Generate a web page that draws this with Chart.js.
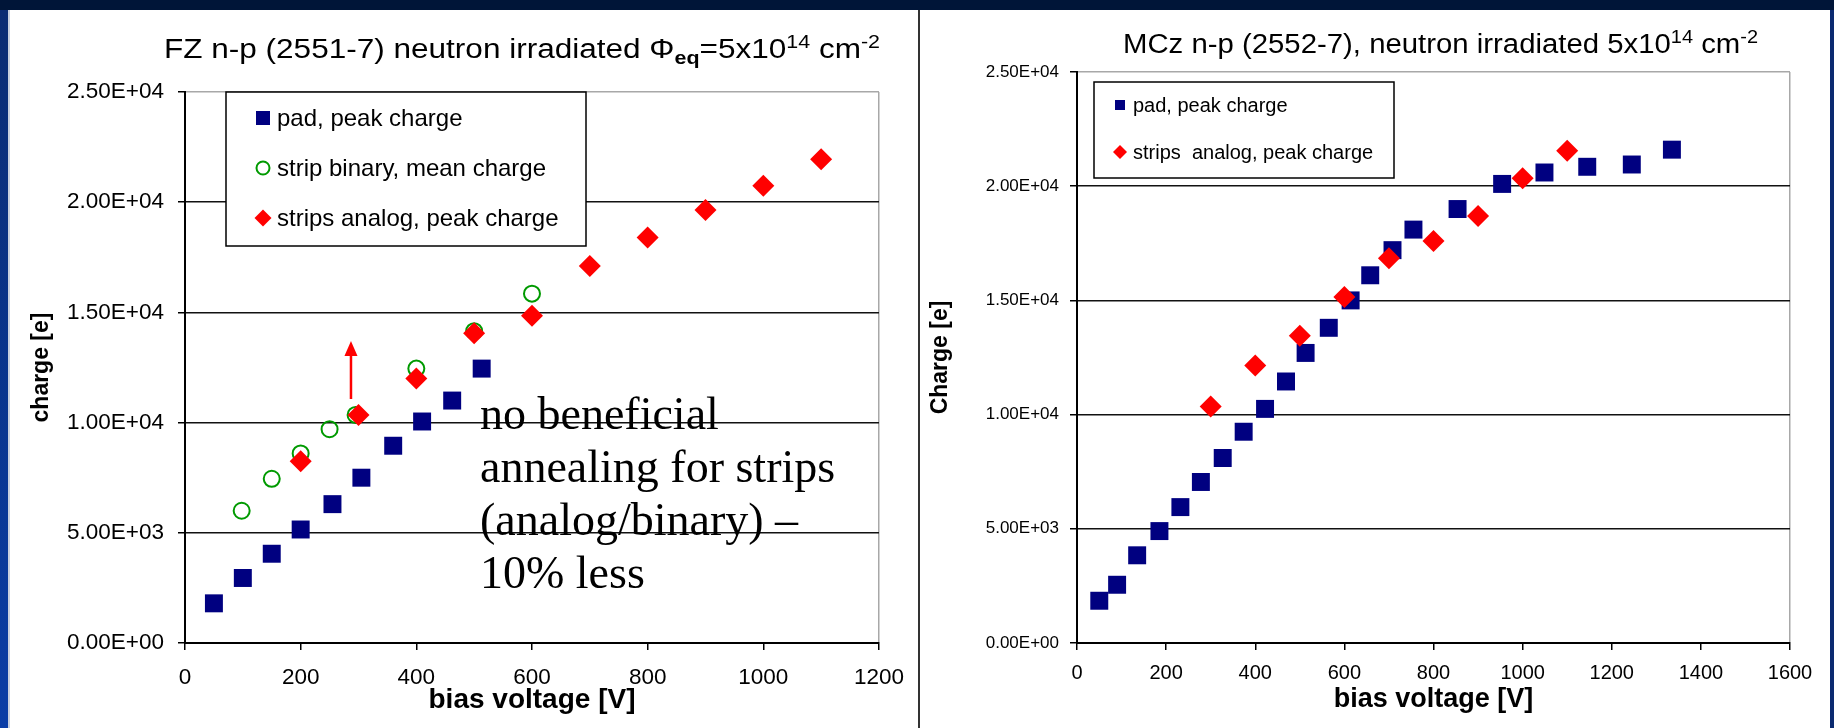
<!DOCTYPE html>
<html>
<head>
<meta charset="utf-8">
<script src="https://cdn.jsdelivr.net/npm/chart.js@4.4.1/dist/chart.umd.min.js"></script>
<style>
  html, body { margin: 0; padding: 0; background: #fff; }
  body { width: 1834px; height: 728px; position: relative; overflow: hidden; font-family: "Liberation Sans", Arial, sans-serif; }
  .band { position: absolute; left: 0; top: 0; width: 1834px; height: 10px; background: #001538; }
  .edgeL { position: absolute; left: 0; top: 10px; width: 8px; height: 718px; background: linear-gradient(#0b2c73, #0a3da6); }
  .edgeL2 { position: absolute; left: 8px; top: 10px; width: 2px; height: 718px; background: #c9d0de; }
  .edgeR { position: absolute; left: 1830px; top: 10px; width: 4px; height: 718px; background: #0b2a70; }
  .divider { position: absolute; left: 918px; top: 10px; width: 2px; height: 718px; background: #333; }
  canvas { position: absolute; }
  .title { position: absolute; white-space: nowrap; font-size: 27px; line-height: 30px; color: #000; transform-origin: left center; }
  .title sup, .title sub { font-size: 0.68em; line-height: 0; }
  .note { position: absolute; left: 480px; top: 387px; font-family: "Liberation Serif", "Times New Roman", serif; font-size: 46px; line-height: 53px; color: #000; white-space: nowrap; }
</style>
</head>
<body>
<div class="band"></div>
<div class="edgeL"></div>
<div class="edgeL2"></div>
<div class="edgeR"></div>
<div class="divider"></div>

<canvas id="fz" width="908" height="718" style="left:10px; top:10px;"></canvas>
<canvas id="mcz" width="910" height="718" style="left:920px; top:10px;"></canvas>

<div id="fzTitle" class="title" style="left:164px; top:34px;">FZ n-p (2551-7) neutron irradiated Φ<sub><b>eq</b></sub>=5x10<sup>14</sup> cm<sup>-2</sup></div>
<div id="mczTitle" class="title" style="left:1123px; top:29px;">MCz n-p (2552-7), neutron irradiated 5x10<sup>14</sup> cm<sup>-2</sup></div>

<div class="note">no beneficial<br>annealing for strips<br>(analog/binary) –<br>10% less</div>

<script>
// ---- data ----
const fzPadV = [50, 100, 150, 200, 255, 305, 360, 410, 462, 513];
const fzPadQ = [1800, 2950, 4050, 5150, 6300, 7500, 8950, 10050, 11000, 12450];
const fzBinV = [98, 150, 200, 250, 295, 400, 500, 600];
const fzBinQ = [6000, 7450, 8600, 9700, 10350, 12450, 14150, 15850];
const fzAnaV = [200, 300, 400, 500, 600, 700, 800, 900, 1000, 1100];
const fzAnaQ = [8250, 10350, 12000, 14050, 14850, 17100, 18400, 19650, 20750, 21950];

const mczPadV = [50, 90, 135, 185, 232, 278, 327, 374, 422, 469, 513, 565, 614, 658, 708, 755, 854, 954, 1049, 1145, 1245, 1335];
const mczPadQ = [1850, 2550, 3840, 4900, 5950, 7050, 8100, 9250, 10250, 11450, 12700, 13800, 15000, 16100, 17200, 18100, 19000, 20100, 20600, 20850, 20950, 21600];
const mczAnaV = [300, 400, 500, 600, 700, 800, 900, 1000, 1100];
const mczAnaQ = [10350, 12150, 13450, 15150, 16850, 17600, 18700, 20350, 21550];

const fzLabels = ["pad, peak charge", "strip binary, mean charge", "strips analog, peak charge"];
const mczLabels = ["pad, peak charge", "strips  analog, peak charge"];

// red arrow on the FZ plot (voltage, charge from -> to)
const arrowV = 287;
const arrowFrom = 11070;
const arrowTo = 13700;

const NAVY = "#000080";
const RED = "#ff0000";
const GREEN = "#009a00";

Chart.defaults.font.family = '"Liberation Sans", Arial, sans-serif';
Chart.defaults.color = "#000";

const pts = (xs, ys) => xs.map((x, i) => ({ x, y: ys[i] }));

// 2.50E+04 style ticks
function sci(v) {
  if (v === 0) return "0.00E+00";
  const e = Math.floor(Math.log10(Math.abs(v)));
  const m = v / Math.pow(10, e);
  return m.toFixed(2) + "E" + (e < 0 ? "-" : "+") + String(Math.abs(e)).padStart(2, "0");
}

function drawMarker(ctx, style, x, y, r, color) {
  ctx.save();
  if (style === "rect") {
    ctx.fillStyle = color;
    ctx.fillRect(x - r, y - r, 2 * r, 2 * r);
  } else if (style === "rectRot") {
    ctx.fillStyle = color;
    ctx.beginPath();
    ctx.moveTo(x, y - r); ctx.lineTo(x + r, y); ctx.lineTo(x, y + r); ctx.lineTo(x - r, y);
    ctx.closePath(); ctx.fill();
  } else {
    ctx.strokeStyle = color; ctx.lineWidth = 2;
    ctx.beginPath(); ctx.arc(x, y, r, 0, Math.PI * 2); ctx.stroke();
  }
  ctx.restore();
}

// boxed legend sitting inside the plot
const boxLegend = {
  id: "boxLegend",
  afterDraw(chart, args, o) {
    const ctx = chart.ctx;
    ctx.save();
    ctx.fillStyle = "#fff";
    ctx.fillRect(o.x, o.y, o.w, o.h);
    ctx.strokeStyle = "#000";
    ctx.lineWidth = 1.5;
    ctx.strokeRect(o.x, o.y, o.w, o.h);
    ctx.font = `${o.fontSize}px "Liberation Sans", Arial, sans-serif`;
    ctx.textBaseline = "middle";
    ctx.fillStyle = "#000";
    const sets = chart.data.datasets.slice().sort((a, b) => a.legendIndex - b.legendIndex);
    sets.forEach((ds, i) => {
      const y = o.rows[i];
      drawMarker(ctx, ds.pointStyle, o.markerX, y, o.markerR[ds.pointStyle], ds.legendColor);
      ctx.fillText(ds.label, o.textX, y + 1);
    });
    ctx.restore();
  }
};

const arrowPlugin = {
  id: "arrow",
  afterDatasetsDraw(chart, args, o) {
    if (!o.show) return;
    const { x, y } = chart.scales;
    const px = x.getPixelForValue(arrowV);
    const y0 = y.getPixelForValue(arrowFrom);
    const y1 = y.getPixelForValue(arrowTo);
    const ctx = chart.ctx;
    ctx.save();
    ctx.strokeStyle = RED; ctx.fillStyle = RED; ctx.lineWidth = 2.5;
    ctx.beginPath(); ctx.moveTo(px, y0); ctx.lineTo(px, y1 + 12); ctx.stroke();
    ctx.beginPath(); ctx.moveTo(px, y1); ctx.lineTo(px + 6.5, y1 + 15); ctx.lineTo(px - 6.5, y1 + 15);
    ctx.closePath(); ctx.fill();
    ctx.restore();
  }
};

function makeChart(id, cfg) {
  const ctx = document.getElementById(id).getContext("2d");
  return new Chart(ctx, {
    type: "scatter",
    data: { datasets: cfg.datasets },
    plugins: [boxLegend, arrowPlugin],
    options: {
      responsive: false,
      animation: false,
      events: [],
      layout: { autoPadding: false, padding: { top: cfg.padTop, right: cfg.padRight, left: 0, bottom: 0 } },
      plugins: {
        legend: { display: false },
        tooltip: { enabled: false },
        boxLegend: cfg.legend,
        arrow: { show: cfg.arrow }
      },
      scales: {
        x: {
          type: "linear", min: 0, max: cfg.xMax,
          afterFit: s => { s.height = 85; },
          ticks: { stepSize: 200, padding: cfg.xTickPad, font: { size: cfg.xTickSize }, color: "#000", maxRotation: 0, callback: v => String(v) },
          grid: {
            drawOnChartArea: true, tickLength: 7, tickColor: "#000", tickWidth: 1.5, lineWidth: 1.5,
            color: c => (c.tick && c.tick.value === cfg.xMax ? "#a8a8a8" : "rgba(0,0,0,0)")
          },
          border: { color: "#000", width: 2 },
          title: { display: true, text: "bias voltage [V]", font: { size: cfg.xTitleSize, weight: "bold" }, color: "#000", padding: { top: 0, bottom: cfg.xTitlePad } }
        },
        y: {
          type: "linear", min: 0, max: 25000,
          afterFit: s => { s.width = cfg.yWidth; },
          ticks: { stepSize: 5000, padding: cfg.yTickPad, font: { size: cfg.yTickSize }, color: "#000", callback: v => sci(v) },
          grid: {
            tickLength: 7, tickColor: "#000", tickWidth: 1.5, lineWidth: 1.5,
            color: c => (c.tick && c.tick.value === 25000 ? "#a8a8a8" : "#111")
          },
          border: { color: "#000", width: 2 },
          title: { display: true, text: cfg.yTitle, font: { size: cfg.yTitleSize, weight: "bold" }, color: "#000", padding: { top: cfg.yTitlePad, bottom: 0 } }
        }
      }
    }
  });
}

makeChart("fz", {
  xMax: 1200, padTop: 82, padRight: 35, yWidth: 175,
  xTickSize: 22.5, xTickPad: 14, yTickSize: 22.5, yTickPad: 14,
  xTitleSize: 28, xTitlePad: 11, yTitle: "charge [e]", yTitleSize: 23, yTitlePad: 18,
  arrow: true,
  legend: {
    x: 216, y: 82, w: 360, h: 154, fontSize: 24, markerX: 253, textX: 267, rows: [108, 158, 208],
    markerR: { rect: 7, circle: 6.5, rectRot: 8.5 }
  },
  datasets: [
    { label: fzLabels[0], legendIndex: 0, legendColor: NAVY, order: 3, data: pts(fzPadV, fzPadQ),
      pointStyle: "rect", pointRadius: 12.7, backgroundColor: NAVY, borderColor: NAVY, borderWidth: 0 },
    { label: fzLabels[1], legendIndex: 1, legendColor: GREEN, order: 2, data: pts(fzBinV, fzBinQ),
      pointStyle: "circle", pointRadius: 8, backgroundColor: "rgba(0,0,0,0)", borderColor: GREEN, borderWidth: 2 },
    { label: fzLabels[2], legendIndex: 2, legendColor: RED, order: 1, data: pts(fzAnaV, fzAnaQ),
      pointStyle: "rectRot", pointRadius: 11, backgroundColor: RED, borderColor: RED, borderWidth: 0 }
  ]
});

makeChart("mcz", {
  xMax: 1600, padTop: 62, padRight: 40, yWidth: 157,
  xTickSize: 20, xTickPad: 11.5, yTickSize: 17, yTickPad: 11,
  xTitleSize: 27, xTitlePad: 12, yTitle: "Charge [e]", yTitleSize: 23, yTitlePad: 7,
  arrow: false,
  legend: {
    x: 174, y: 72, w: 300, h: 96, fontSize: 20, markerX: 200, textX: 213, rows: [95, 142],
    markerR: { rect: 5, rectRot: 7 }
  },
  datasets: [
    { label: mczLabels[0], legendIndex: 0, legendColor: NAVY, order: 2, data: pts(mczPadV, mczPadQ),
      pointStyle: "rect", pointRadius: 12.7, backgroundColor: NAVY, borderColor: NAVY, borderWidth: 0 },
    { label: mczLabels[1], legendIndex: 1, legendColor: RED, order: 1, data: pts(mczAnaV, mczAnaQ),
      pointStyle: "rectRot", pointRadius: 11, backgroundColor: RED, borderColor: RED, borderWidth: 0 }
  ]
});

// stretch the slide titles to the width they have in the picture
function fitTitle(id, width) {
  const el = document.getElementById(id);
  const w = el.getBoundingClientRect().width;
  el.style.transform = `scaleX(${width / w})`;
}
fitTitle("fzTitle", 716);
fitTitle("mczTitle", 635);
</script>
</body>
</html>
